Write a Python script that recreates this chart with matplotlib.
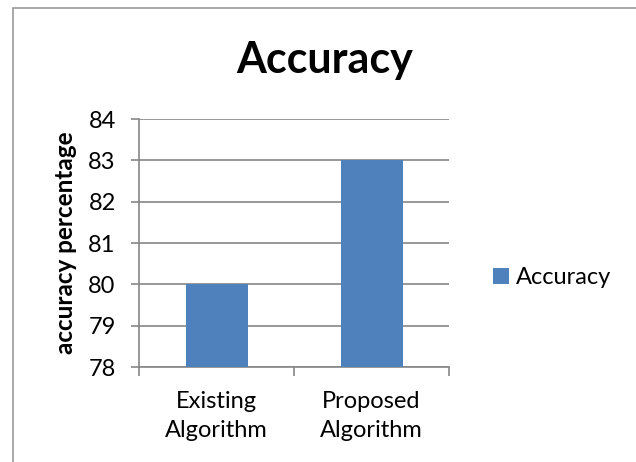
import matplotlib
matplotlib.use("Agg")
import matplotlib.pyplot as plt
from matplotlib.patches import Rectangle

categories = ["Existing\nAlgorithm", "Proposed\nAlgorithm"]
accuracy = [80, 83]
series_name = "Accuracy"
y_ticks = [78, 79, 80, 81, 82, 83, 84]

plt.rcParams['font.family'] = ['Lato', 'DejaVu Sans']

bar_color = '#4F81BD'
grid_color = '#868686'

fig = plt.figure(figsize=(6.36, 4.62), dpi=100)
fig.patches.append(Rectangle((13 / 636, -0.1), 1.2, 1 - 8 / 462 + 0.1,
                             transform=fig.transFigure, fill=False,
                             edgecolor='#9a9a9a', linewidth=1.2))

ax = fig.add_axes([139 / 636, 1 - 367 / 462, 310 / 636, 248 / 462])

x = range(len(categories))
ax.bar(x, accuracy, width=0.4, color=bar_color, zorder=3, label=series_name)

ax.set_ylim(78, 84)
ax.set_xlim(-0.5, len(categories) - 0.5)
ax.set_yticks(y_ticks)
ax.yaxis.grid(True, color=grid_color, linewidth=1.2, zorder=0)
ax.tick_params(axis='y', length=5.8, width=1.2, color=grid_color,
               labelsize=17, pad=11)

# category labels in the middle, tick marks on the boundaries
ax.set_xticks(list(x))
ax.set_xticklabels(categories, fontsize=17, linespacing=1.5)
ax.tick_params(axis='x', which='major', length=0, pad=17)
ax.set_xticks([-0.5, 0.5, 1.5], minor=True)
ax.tick_params(axis='x', which='minor', length=6.5, width=1.2, color=grid_color)

for side in ['top', 'right']:
  ax.spines[side].set_visible(False)
for side in ['left', 'bottom']:
  ax.spines[side].set_color(grid_color)
  ax.spines[side].set_linewidth(1.2)

ax.set_ylabel('accuracy percentage', fontsize=17.5, fontweight='bold',
              labelpad=8)

fig.text(325 / 636, 1 - 60 / 462, 'Accuracy', fontsize=31,
         fontweight='bold', ha='center', va='center')

fig.legend(loc='center left', bbox_to_anchor=(472 / 636, 1 - 278 / 462),
           frameon=False, fontsize=17, handlelength=0.65, handleheight=0.65,
           handletextpad=0.3)

fig.savefig('out.png', dpi=100)
